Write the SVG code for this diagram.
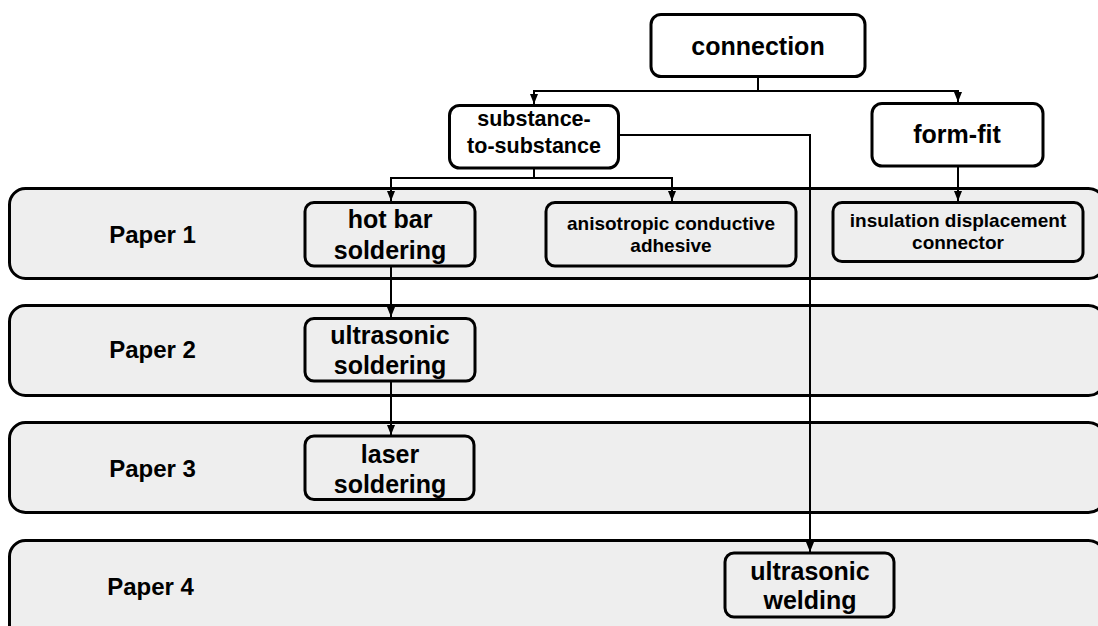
<svg xmlns="http://www.w3.org/2000/svg" width="1098" height="626" viewBox="0 0 1098 626">
<defs>
<marker id="arr" markerUnits="userSpaceOnUse" markerWidth="10" markerHeight="10" viewBox="0 0 10 10" refX="10" refY="5" orient="auto">
<path d="M0,1 L10,5 L0,9 Z" fill="#000"/>
</marker>
<style>
.lane{fill:#eeeeee;stroke:#000;stroke-width:3}
.box{fill:#eeeeee;stroke:#000;stroke-width:3}
.top{fill:#ffffff;stroke:#000;stroke-width:3}
text{font-family:"Liberation Sans",Arial,sans-serif;font-weight:bold;fill:#000;text-anchor:middle}
.big{font-size:25px}
.lbl{font-size:24px}
.mid{font-size:21.5px}
.sm{font-size:19px}
.con{fill:none;stroke:#000;stroke-width:2}
</style>
</defs>
<rect width="1098" height="626" fill="#fff"/>
<g id="lane1"><rect class="lane" x="9.5" y="188.5" width="1095" height="90" rx="16"/><text class="lbl" x="152.5" y="243">Paper 1</text></g>
<g id="lane2"><rect class="lane" x="9.5" y="305.5" width="1095" height="90" rx="16"/><text class="lbl" x="152.5" y="358">Paper 2</text></g>
<g id="lane3"><rect class="lane" x="9.5" y="422.5" width="1095" height="90" rx="16"/><text class="lbl" x="152.5" y="476.5">Paper 3</text></g>
<g id="lane4"><rect class="lane" x="9.5" y="540.5" width="1095" height="110" rx="16"/><text class="lbl" x="150.5" y="595">Paper 4</text></g>
<g id="connectors">
<path class="con" d="M758,77 V91 H534 V104" marker-end="url(#arr)"/>
<path class="con" d="M758,91 H958 V102" marker-end="url(#arr)"/>
<path class="con" d="M534,168 V178 H391 V201" marker-end="url(#arr)"/>
<path class="con" d="M534,178 H672 V201" marker-end="url(#arr)"/>
<path class="con" d="M958,166 V201" marker-end="url(#arr)"/>
<path class="con" d="M619,135 H810 V552" marker-end="url(#arr)"/>
<path class="con" d="M391,266 V317" marker-end="url(#arr)"/>
<path class="con" d="M391,381 V435" marker-end="url(#arr)"/>
</g>
<g id="connection"><rect class="top" x="651" y="14.5" width="214" height="62" rx="10"/><text class="big" x="758" y="55">connection</text></g>
<g id="substance"><rect class="top" x="449.5" y="105.5" width="169" height="62.5" rx="10"/><text class="mid" x="534" y="126">substance-</text><text class="mid" x="534" y="153">to-substance</text></g>
<g id="formfit"><rect class="top" x="872" y="103.5" width="171" height="62.5" rx="10"/><text class="big" x="957" y="143">form-fit</text></g>
<g id="hotbar"><rect class="box" x="305" y="202.5" width="170" height="63.5" rx="9"/><text class="big" x="390" y="228">hot bar</text><text class="big" x="390" y="259">soldering</text></g>
<g id="aca"><rect class="box" x="546" y="202.5" width="250" height="63.5" rx="9"/><text class="sm" x="671" y="230">anisotropic conductive</text><text class="sm" x="671" y="252">adhesive</text></g>
<g id="idc"><rect class="box" x="833" y="202.5" width="250" height="59" rx="9"/><text class="sm" x="958" y="226.5">insulation displacement</text><text class="sm" x="958" y="249">connector</text></g>
<g id="usold"><rect class="box" x="305" y="318.5" width="170" height="62.5" rx="9"/><text class="big" x="390" y="343.5">ultrasonic</text><text class="big" x="390" y="373.5">soldering</text></g>
<g id="laser"><rect class="box" x="305" y="436" width="169" height="63.5" rx="9"/><text class="big" x="390" y="462.5">laser</text><text class="big" x="390" y="493">soldering</text></g>
<g id="uweld"><rect class="box" x="725" y="553" width="169" height="64" rx="9"/><text class="big" x="810" y="580">ultrasonic</text><text class="big" x="810" y="609">welding</text></g>
</svg>
